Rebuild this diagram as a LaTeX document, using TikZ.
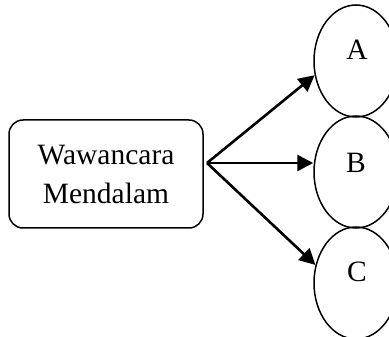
\documentclass[tikz,border=0pt]{standalone}
\usepackage{fontspec}
\setmainfont{Liberation Serif}
\usetikzlibrary{arrows.meta,shapes.geometric}
\begin{document}
\begin{tikzpicture}[x=1pt,y=-1pt,
  txt/.style={font=\fontsize{29.5}{39}\selectfont},
  box/.style={draw,line width=1.5pt,rounded corners=14pt,minimum width=194pt,minimum height=108pt,inner sep=0pt,align=center,txt},
  oval/.style={draw,ellipse,line width=1.5pt,minimum width=84pt,minimum height=112pt,inner sep=0pt},
  lbl/.style={txt,inner sep=0pt},
  arr/.style={line width=2.6pt,-{Triangle[length=16pt,width=16pt]}}]
\useasboundingbox (0,0) rectangle (389,337);
\clip (0,0) rectangle (389,337);
\node[box] (w) at (106,174) {Wawancara\\Mendalam};
\node[oval] (A) at (356,61) {};
\node[oval] (B) at (356,172) {};
\node[oval] (C) at (356,283) {};
\node[lbl] (la) at (357,50) {A};
\node[lbl] (lb) at (356,163) {B};
\node[lbl] (lc) at (357,272) {C};
\coordinate (s) at (207,163);
\draw[arr] (s) -- (A.199);
\draw[arr] (s) -- (B.west |- s);
\draw[arr] (s) -- (C.156);
\end{tikzpicture}
\end{document}
